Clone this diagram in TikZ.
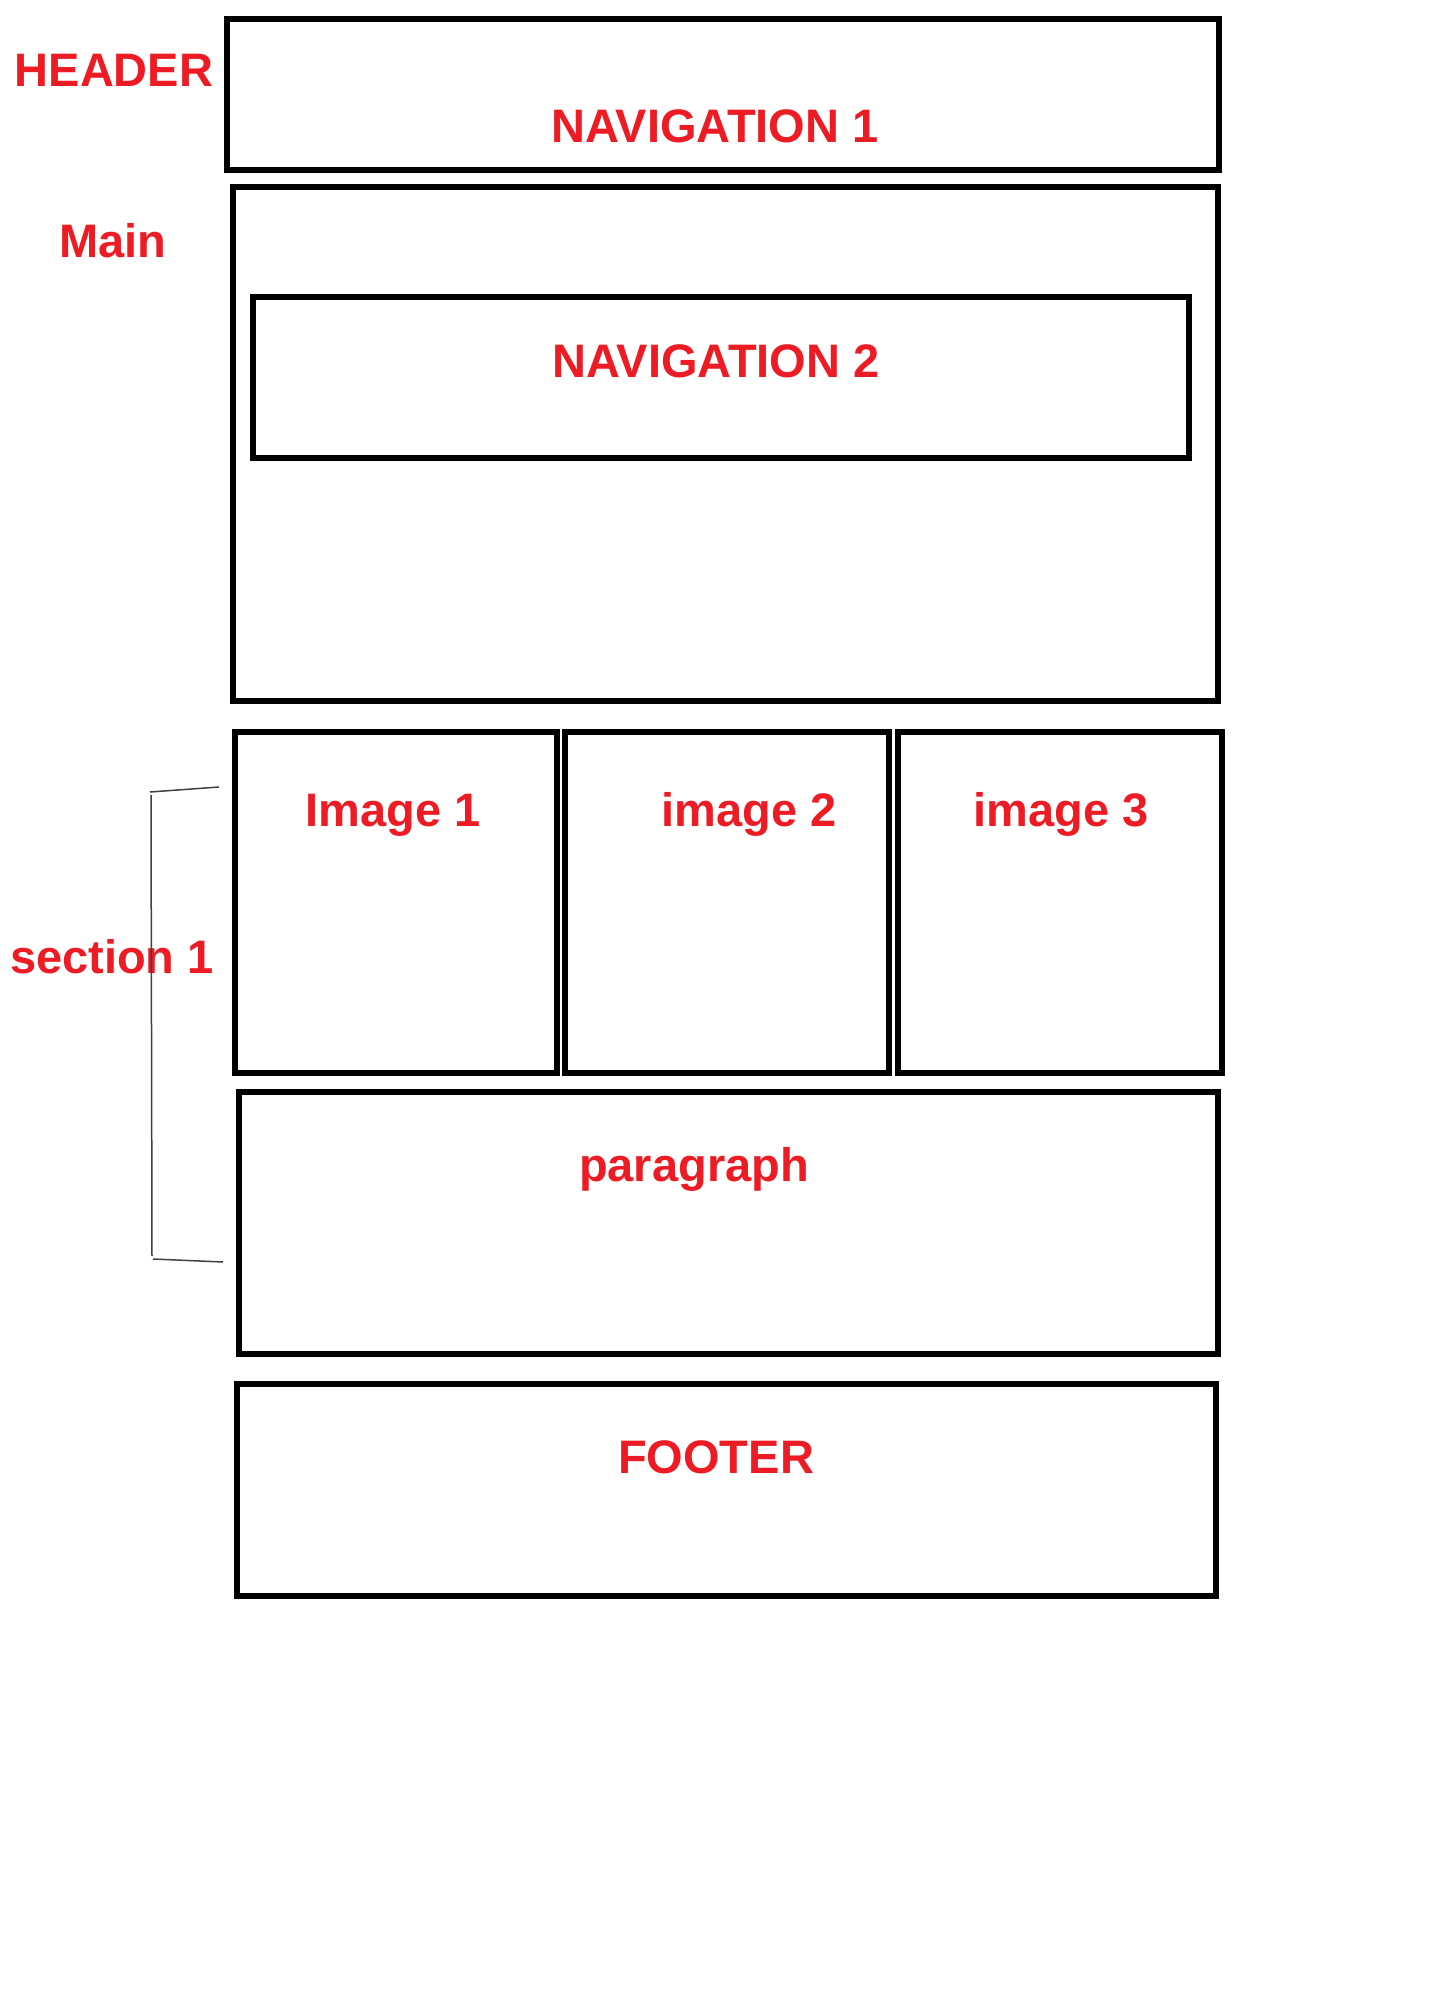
\documentclass[tikz,border=0pt]{standalone}
\usepackage{fontspec}
\setmainfont{Liberation Sans}
\definecolor{lblred}{RGB}{237,28,36}
\begin{document}
\begin{tikzpicture}[x=1pt,y=-1pt,
  box/.style={draw=black,line width=6pt,rectangle,inner sep=0pt},
  lbl/.style={text=lblred,font=\fontsize{47}{56}\selectfont\bfseries,anchor=base,inner sep=0pt},
  brk/.style={draw=black!75,line width=1.5pt}]
\useasboundingbox[fill=white] (0,0) rectangle (1440,2000);
% boxes: stroke centres
\node[box,minimum width=992pt,minimum height=151pt] (hdr) at (723,94.5) {};
\node[box,minimum width=985pt,minimum height=514pt] (main) at (725.5,444) {};
\node[box,minimum width=936pt,minimum height=161pt] (nav2) at (721,377.5) {};
\node[box,minimum width=322pt,minimum height=341pt] (img1) at (396,902.5) {};
\node[box,minimum width=324pt,minimum height=341pt] (img2) at (727,902.5) {};
\node[box,minimum width=324pt,minimum height=341pt] (img3) at (1060,902.5) {};
\node[box,minimum width=979pt,minimum height=262pt] (para) at (728.5,1223) {};
\node[box,minimum width=979pt,minimum height=212pt] (foot) at (726.5,1490) {};
% labels
\node[lbl] (tHeader) at (114,86) {HEADER};
\node[lbl] (tNav1) at (715,142) {NAVIGATION 1};
\node[lbl] (tMain) at (113,257) {Main};
\node[lbl] (tNav2) at (716,377) {NAVIGATION 2};
\node[lbl] (tImg1) at (393,826) {Image 1};
\node[lbl] (tImg2) at (749,826) {image 2};
\node[lbl] (tImg3) at (1061,826) {image 3};
\node[lbl] (tSec) at (112,973) {section 1};
\node[lbl] (tPara) at (694,1181) {paragraph};
\node[lbl] (tFoot) at (716,1473) {FOOTER};
% bracket
\coordinate (bTa) at (150,792);
\coordinate (bTb) at (219,787);
\coordinate (bVa) at (151,795);
\coordinate (bVb) at (152,1256);
\coordinate (bBa) at (153,1259);
\coordinate (bBb) at (223,1262);
\draw[brk] (bTa) -- (bTb);
\draw[brk] (bVa) -- (bVb);
\draw[brk] (bBa) -- (bBb);
\end{tikzpicture}
\end{document}
